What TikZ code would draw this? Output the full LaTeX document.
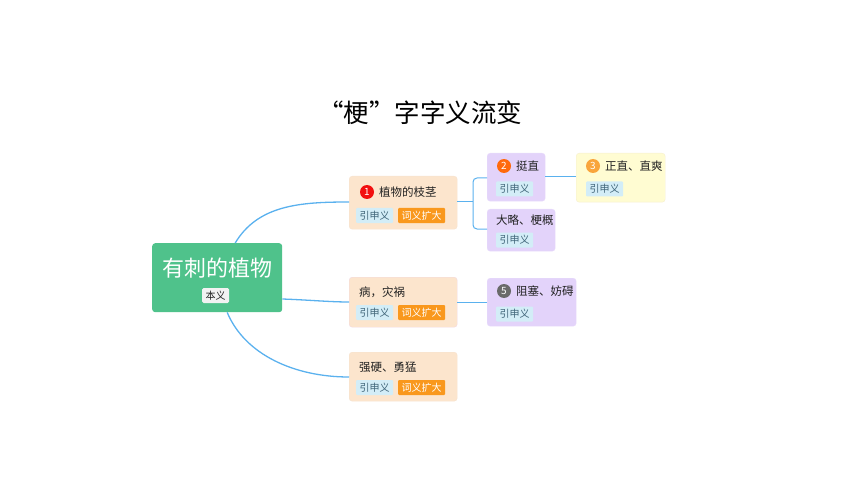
\documentclass[tikz,border=0pt]{standalone}
\usepackage{fontspec}
\setmainfont{Noto Sans CJK SC}
\newfontfamily\fwfont[CharacterWidth=Full]{Noto Sans CJK SC}
\usetikzlibrary{calc}
\definecolor{rootgreen}{HTML}{4FC28B}
\definecolor{peach}{HTML}{FCE5CD}
\definecolor{peachline}{HTML}{F6E3D0}
\definecolor{pinkline}{HTML}{F2D9E0}
\definecolor{lav}{HTML}{E3D3FA}
\definecolor{lavline}{HTML}{E8DCFA}
\definecolor{yel}{HTML}{FFFCD2}
\definecolor{yelline}{HTML}{F6EFD0}
\definecolor{tagblue}{HTML}{D3EDF7}
\definecolor{tagbluetext}{HTML}{3F6478}
\definecolor{tagorange}{HTML}{F9981D}
\definecolor{conn}{HTML}{5AB1EE}
\definecolor{cred}{HTML}{F20F0F}
\definecolor{corange}{HTML}{FF6A0D}
\definecolor{clight}{HTML}{F9A53C}
\definecolor{cgrey}{HTML}{6A6A6A}
\definecolor{txt}{HTML}{222222}
\tikzset{
  box/.style={anchor=north west, rounded corners=3pt, inner sep=0pt},
  tagb/.style={anchor=west, fill=tagblue, text=tagbluetext, font=\fontsize{10}{10}\selectfont, minimum height=15pt, minimum width=37pt, inner sep=0pt, rounded corners=1pt},
  tago/.style={anchor=west, fill=tagorange, text=white, font=\fontsize{10}{10}\selectfont, minimum height=15pt, minimum width=47pt, inner sep=0pt, rounded corners=1pt},
  lbl/.style={anchor=west, text=txt, font=\fontsize{11.5}{12}\selectfont, inner sep=0pt},
  num/.style={circle, inner sep=0pt, minimum size=14pt, text=white, font=\fontsize{10}{10}\selectfont},
  link/.style={draw=conn, line width=1.3pt}
}
\begin{document}
\begin{tikzpicture}[x=1pt,y=-1pt]
\useasboundingbox (0,0) rectangle (860,484);
% title
\node (title) at (420,113) {\fwfont\fontsize{25.5}{27}\selectfont “梗”字字义流变};
% root
\node[box, fill=rootgreen, minimum width=130pt, minimum height=69pt] (root) at (152,243) {};
\node (roottext) at (217,268) {\color{white}\fontsize{22}{24}\selectfont 有刺的植物};
\node[fill=white!95!black, rounded corners=1.5pt, inner sep=0pt, minimum width=27pt, minimum height=15pt, font=\fontsize{10}{10}\selectfont, text=txt] (benyi) at (215.5,295.5) {本义};
% node 1
\node[box, fill=peach, draw=peachline, minimum width=108pt, minimum height=53pt] (n1) at (349,176) {};
\node[num, fill=cred] (c1) at (367,192) {1};
\node[lbl] (t1) at (379,192) {植物的枝茎};
\node[tagb] (g1a) at (356,215.5) {引申义};
\node[tago] (g1b) at (398,215.5) {词义扩大};
% node 病
\node[box, fill=peach, draw=pinkline, minimum width=108pt, minimum height=50pt] (n2) at (349,277) {};
\node[lbl] (t2) at (359,292) {病，灾祸};
\node[tagb] (g2a) at (356,312.5) {引申义};
\node[tago] (g2b) at (398,312.5) {词义扩大};
% node 强硬
\node[box, fill=peach, draw=peachline, minimum width=108pt, minimum height=49pt] (n3) at (349,352) {};
\node[lbl] (t3) at (359,367) {强硬、勇猛};
\node[tagb] (g3a) at (356,387.5) {引申义};
\node[tago] (g3b) at (398,387.5) {词义扩大};
% node 2
\node[box, fill=lav, draw=lavline, minimum width=58pt, minimum height=48pt] (m1) at (487,153) {};
\node[num, fill=corange] (c2) at (504,166) {2};
\node[lbl] (s1) at (516,166) {挺直};
\node[tagb] (h1) at (496,189) {引申义};
% node 大略
\node[box, fill=lav, draw=lavline, minimum width=68pt, minimum height=42pt] (m2) at (487,209) {};
\node[lbl] (s2) at (496,220) {大略、梗概};
\node[tagb] (h2) at (496,240) {引申义};
% node 3
\node[box, fill=yel, draw=yelline, minimum width=89pt, minimum height=49pt] (m3) at (576,153) {};
\node[num, fill=clight] (c3) at (593,166) {3};
\node[lbl] (s3) at (605,166) {正直、直爽};
\node[tagb] (h3) at (586,189) {引申义};
% node 5
\node[box, fill=lav, draw=lavline, minimum width=89pt, minimum height=48pt] (m5) at (487,278) {};
\node[num, fill=cgrey] (c5) at (504,291) {5};
\node[lbl] (s5) at (516,291) {阻塞、妨碍};
\node[tagb] (h5) at (496,314) {引申义};
% connectors
\coordinate (b1) at (473,202);
\draw[link] ([xshift=18pt]root.north) .. controls (258,205) and (300,202) .. (n1.west |- b1);
\draw[link] (root.east |- 0,299) .. controls (310,300) and (330,302) .. (n2.west |- 0,302);
\draw[link] ([xshift=10pt]root.south) .. controls (245,355) and (295,377) .. (n3.west |- 0,377);
\draw[link, line width=1pt] (n1.east |- b1) -- (b1);
\draw[link, line width=1pt, rounded corners=4pt] (m1.west |- 0,178) -- (b1 |- 0,178) -- (b1 |- 0,229) -- (m2.west |- 0,229);
\draw[link, line width=1pt] (m1.east |- 0,177) -- (m3.west |- 0,177);
\draw[link, line width=1pt] (n2.east |- 0,302) -- (m5.west |- 0,302);
\end{tikzpicture}
\end{document}
